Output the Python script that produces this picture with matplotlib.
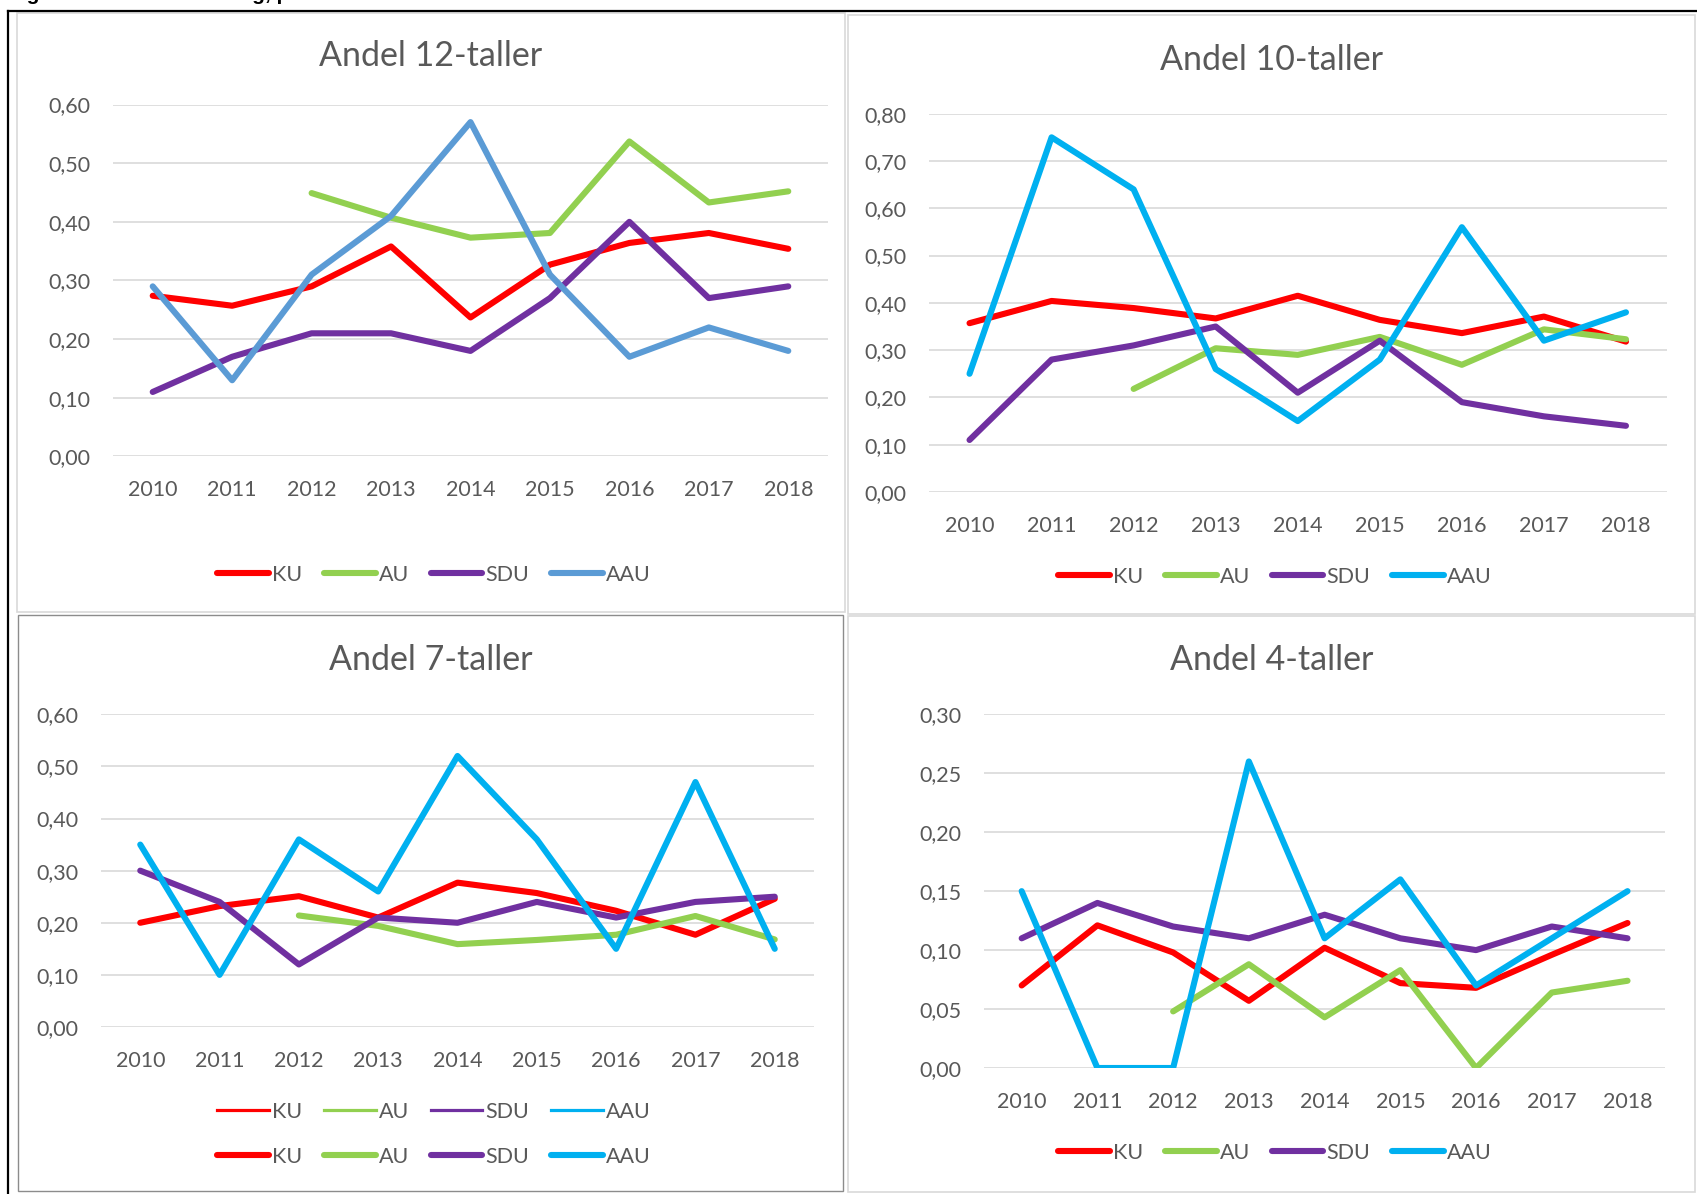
import matplotlib.pyplot as plt
import numpy as np
from matplotlib.patches import Rectangle
from matplotlib.lines import Line2D

plt.rcParams['font.family'] = ['Lato', 'DejaVu Sans']

nan = np.nan
years = ['2010', '2011', '2012', '2013', '2014', '2015', '2016', '2017', '2018']
names = ['KU', 'AU', 'SDU', 'AAU']

# Andel 12-taller
ku_12 = [0.274, 0.257, 0.290, 0.358, 0.237, 0.327, 0.364, 0.381, 0.354]
au_12 = [nan, nan, 0.449, 0.407, 0.373, 0.381, 0.537, 0.433, 0.452]
sdu_12 = [0.11, 0.17, 0.21, 0.21, 0.18, 0.27, 0.40, 0.27, 0.29]
aau_12 = [0.29, 0.13, 0.31, 0.41, 0.57, 0.31, 0.17, 0.22, 0.18]

# Andel 10-taller
ku_10 = [0.357, 0.404, 0.389, 0.367, 0.415, 0.364, 0.336, 0.371, 0.318]
au_10 = [nan, nan, 0.218, 0.304, 0.290, 0.328, 0.269, 0.344, 0.323]
sdu_10 = [0.11, 0.28, 0.31, 0.35, 0.21, 0.32, 0.19, 0.16, 0.14]
aau_10 = [0.25, 0.75, 0.64, 0.26, 0.15, 0.28, 0.56, 0.32, 0.38]

# Andel 7-taller
ku_7 = [0.200, 0.232, 0.251, 0.210, 0.277, 0.257, 0.223, 0.177, 0.246]
au_7 = [nan, nan, 0.214, 0.194, 0.159, 0.167, 0.177, 0.213, 0.168]
sdu_7 = [0.30, 0.24, 0.12, 0.21, 0.20, 0.24, 0.21, 0.24, 0.25]
aau_7 = [0.35, 0.10, 0.36, 0.26, 0.52, 0.36, 0.15, 0.47, 0.15]

# Andel 4-taller
ku_4 = [0.070, 0.121, 0.098, 0.057, 0.102, 0.072, 0.068, 0.096, 0.123]
au_4 = [nan, nan, 0.048, 0.088, 0.043, 0.083, 0.0, 0.064, 0.074]
sdu_4 = [0.11, 0.14, 0.12, 0.11, 0.13, 0.11, 0.10, 0.12, 0.11]
aau_4 = [0.15, 0.0, 0.0, 0.26, 0.11, 0.16, 0.07, 0.11, 0.15]

W, H = 1697, 1194
fig = plt.figure(figsize=(W / 100, H / 100), dpi=100)
txt = '#595959'
fs = 15.5

def fx(px):
    return px / W

def fy(py):
    return 1 - py / H

def panel_box(l, t, r, b, color, lw=1.0):
    fig.patches.append(Rectangle((fx(l), fy(b)), fx(r - l), (b - t) / H, fill=False,
                                 edgecolor=color, lw=lw, transform=fig.transFigure))

# outer black frame + chart area borders
fig.add_artist(Line2D([fx(8), 1], [fy(11), fy(11)], color='black', lw=1.6))
fig.add_artist(Line2D([fx(8), fx(8)], [fy(11), 0], color='black', lw=1.6))
panel_box(17, 13, 845, 612, '#D9D9D9', 1.2)
panel_box(848, 15, 1695, 614, '#D9D9D9', 1.2)
panel_box(18, 615, 843, 1191, '#8C8C8C', 1.0)
panel_box(848, 616, 1695, 1192, '#D9D9D9', 1.2)

# heading, only its lower edge is inside the picture
fig.text(fx(8), fy(0.5), 'Figur 5: Karakterfordeling, pr.', fontsize=15,
         fontweight='bold', family='Liberation Sans', va='baseline', ha='left', color='black')

def chart(l, t, r, b, title, tx, ty, series, colors, ymax, step, leg_xy):
    ax = fig.add_axes([fx(l), fy(b), fx(r - l), (b - t) / H])
    x = np.arange(len(years))
    for vals, c in zip(series, colors):
        ax.plot(x, vals, color=c, lw=4.4, solid_capstyle='round', solid_joinstyle='round')
    ax.set_xlim(-0.5, len(years) - 0.5)
    ax.set_ylim(0, ymax)
    ticks = np.arange(0, ymax + step / 2, step)
    ax.set_yticks(ticks)
    ax.set_yticklabels([f'{v:.2f}'.replace('.', ',') for v in ticks])
    ax.set_xticks(x)
    ax.set_xticklabels(years)
    ax.tick_params(axis='both', length=0, labelsize=fs, colors=txt)
    ax.tick_params(axis='y', pad=16)
    ax.tick_params(axis='x', pad=17)
    ax.grid(axis='y', color='#D9D9D9', lw=1.2)
    ax.set_axisbelow(True)
    for s in ax.spines.values():
        s.set_visible(False)
    fig.text(fx(tx), fy(ty), title, fontsize=24.5, color=txt, ha='center', va='center')
    handles = [Line2D([], [], color=c, lw=4.4, solid_capstyle='round') for c in colors]
    ax.legend(handles, names, loc='center', bbox_to_anchor=(fx(leg_xy[0]), fy(leg_xy[1])),
              bbox_transform=fig.transFigure, ncol=4, frameon=False, fontsize=fs,
              labelcolor=txt, handlelength=2.4, handletextpad=0.15, columnspacing=1.0)
    return ax

cols = ['#FF0000', '#92D050', '#7030A0', '#00B0F0']
cols_12 = ['#FF0000', '#92D050', '#7030A0', '#5B9BD5']

chart(113, 104.5, 828, 456.5, 'Andel 12-taller', 431, 56,
      [ku_12, au_12, sdu_12, aau_12], cols_12, 0.6, 0.1, (434, 575))
chart(928.5, 113.7, 1667, 492, 'Andel 10-taller', 1272, 60,
      [ku_10, au_10, sdu_10, aau_10], cols, 0.8, 0.1, (1275, 577))
ax7 = chart(100.6, 714.3, 814.4, 1027, 'Andel 7-taller', 431, 660,
            [ku_7, au_7, sdu_7, aau_7], cols, 0.6, 0.1, (434, 1157))
chart(983.8, 714.3, 1665.4, 1068, 'Andel 4-taller', 1272, 660,
      [ku_4, au_4, sdu_4, aau_4], cols, 0.3, 0.05, (1275, 1153))

# 7-taller has an extra legend row with thin lines
first = ax7.get_legend()
ax7.add_artist(first)
thin = [Line2D([], [], color=c, lw=2.3) for c in cols]
ax7.legend(thin, names, loc='center', bbox_to_anchor=(fx(434), fy(1112)),
           bbox_transform=fig.transFigure, ncol=4, frameon=False, fontsize=fs,
           labelcolor=txt, handlelength=2.4, handletextpad=0.15, columnspacing=1.0)

fig.savefig('out.png', dpi=100)
